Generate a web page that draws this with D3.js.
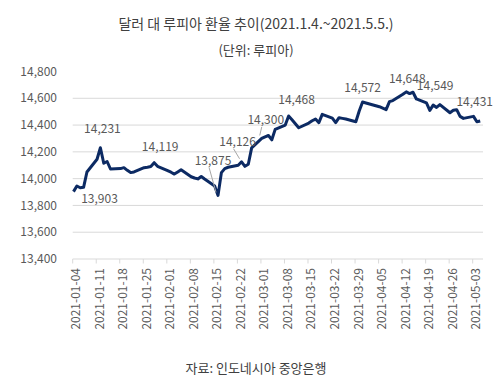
<!DOCTYPE html>
<html>
<head>
<meta charset="utf-8">
<script src="https://cdn.jsdelivr.net/npm/d3@7"></script>
<style>
  body { margin: 0; background: #fff; }
  svg text { font-family: "Noto Sans CJK KR", "Noto Sans", sans-serif; }
</style>
</head>
<body>
<script>
// IDR per USD, business days 2021-01-04 ~ 2021-05-05
const dates = [
  "2021-01-04","2021-01-05","2021-01-06","2021-01-07","2021-01-08",
  "2021-01-11","2021-01-12","2021-01-13","2021-01-14","2021-01-15",
  "2021-01-18","2021-01-19","2021-01-20","2021-01-21","2021-01-22",
  "2021-01-25","2021-01-26","2021-01-27","2021-01-28","2021-01-29",
  "2021-02-01","2021-02-02","2021-02-03","2021-02-04","2021-02-05",
  "2021-02-08","2021-02-09","2021-02-10","2021-02-11","2021-02-12",
  "2021-02-15","2021-02-16","2021-02-17","2021-02-18","2021-02-19",
  "2021-02-22","2021-02-23","2021-02-24","2021-02-25","2021-02-26",
  "2021-03-01","2021-03-02","2021-03-03","2021-03-04","2021-03-05",
  "2021-03-08","2021-03-09","2021-03-10","2021-03-12",
  "2021-03-15","2021-03-16","2021-03-17","2021-03-18","2021-03-19",
  "2021-03-22","2021-03-23","2021-03-24","2021-03-25","2021-03-26",
  "2021-03-29","2021-03-30","2021-03-31","2021-04-01",
  "2021-04-05","2021-04-06","2021-04-07","2021-04-08","2021-04-09",
  "2021-04-12","2021-04-13","2021-04-14","2021-04-15","2021-04-16",
  "2021-04-19","2021-04-20","2021-04-21","2021-04-22","2021-04-23",
  "2021-04-26","2021-04-27","2021-04-28","2021-04-29","2021-04-30",
  "2021-05-03","2021-05-04","2021-05-05"
];
const rates = [
  13903,13945,13932,13935,14050,
  14145,14231,14115,14128,14072,
  14075,14082,14062,14045,14050,
  14082,14085,14090,14119,14092,
  14060,14048,14034,14050,14066,
  14014,14005,13998,14016,13997,
  13945,13875,14045,14075,14085,
  14100,14126,14092,14108,14230,
  14300,14312,14322,14290,14368,
  14400,14468,14440,14380,
  14415,14432,14445,14418,14480,
  14452,14418,14455,14450,14445,
  14425,14505,14572,14565,
  14537,14526,14515,14575,14583,
  14630,14648,14635,14645,14595,
  14565,14510,14549,14532,14553,
  14492,14510,14515,14465,14450,
  14465,14425,14431
];
const yTicks = [13400,13600,13800,14000,14200,14400,14600,14800];
// points that carry a value label
const labelDates = ["2021-01-04","2021-01-12","2021-01-28","2021-02-16","2021-02-23",
                    "2021-03-01","2021-03-09","2021-03-31","2021-04-13","2021-04-21","2021-05-05"];

const title = "달러 대 루피아 환율 추이(2021.1.4.~2021.5.5.)";
const subtitle = "(단위: 루피아)";
const source = "자료: 인도네시아 중앙은행";

const W = 504, H = 390;
const parse = d3.timeParse("%Y-%m-%d");
const fmtTick = d3.timeFormat("%Y-%m-%d");
const fmtNum = d3.format(",");

const data = dates.map((d, i) => ({date: parse(d), value: rates[i]}));

const svg = d3.select("body").append("svg")
  .attr("width", W).attr("height", H);

const x = d3.scaleTime()
  .domain([parse("2021-01-04"), parse("2021-05-03")])
  .range([73.5, 473.5]);
const y = d3.scaleLinear()
  .domain([13400, 14800])
  .range([259, 71.5]);

const left = 72.7, right = 483;

// titles
svg.append("text").attr("x", 256).attr("y", 24).attr("dy", "0.35em")
  .attr("text-anchor", "middle").attr("font-size", 14).attr("fill", "#404040").text(title);
svg.append("text").attr("x", 256).attr("y", 50.5).attr("dy", "0.35em")
  .attr("text-anchor", "middle").attr("font-size", 13).attr("fill", "#404040").text(subtitle);
svg.append("text").attr("x", 256).attr("y", 368).attr("dy", "0.35em")
  .attr("text-anchor", "middle").attr("font-size", 13).attr("fill", "#404040").text(source);

// gridlines (none on the top tick)
svg.append("g").selectAll("line")
  .data(yTicks.slice(0, -1))
  .join("line")
  .attr("x1", left).attr("x2", right)
  .attr("y1", d => y(d)).attr("y2", d => y(d))
  .attr("stroke", "#d9d9d9").attr("stroke-width", 1);

// y labels
svg.append("g").selectAll("text")
  .data(yTicks)
  .join("text")
  .attr("x", 57).attr("y", d => y(d)).attr("dy", "0.35em")
  .attr("text-anchor", "end").attr("font-size", 12).attr("fill", "#595959")
  .text(d => fmtNum(d));

// x axis ticks + rotated labels
const weekTicks = d3.timeMonday.range(parse("2021-01-04"), parse("2021-05-04"));
const xg = svg.append("g");
xg.selectAll("line")
  .data(weekTicks)
  .join("line")
  .attr("x1", d => x(d) - 0.8).attr("x2", d => x(d) - 0.8)
  .attr("y1", 259).attr("y2", 263.5)
  .attr("stroke", "#d9d9d9");
xg.selectAll("text")
  .data(weekTicks)
  .join("text")
  .attr("transform", d => `translate(${x(d) + 2.5},268) rotate(-90)`)
  .attr("dy", "0.35em")
  .attr("text-anchor", "end").attr("font-size", 12).attr("fill", "#595959")
  .text(d => fmtTick(d));

// line
svg.append("path")
  .datum(data)
  .attr("fill", "none")
  .attr("stroke", "#0c2a63")
  .attr("stroke-width", 3)
  .attr("stroke-linejoin", "round")
  .attr("d", d3.line().x(d => x(d.date)).y(d => y(d.value)));

// value labels, offset from their point
const labelOffset = {
  "2021-01-04": [26, 7],
  "2021-01-12": [2, -18.5],
  "2021-01-28": [6, -15.5],
  "2021-02-16": [-5, -35],
  "2021-02-23": [-4, -20],
  "2021-03-01": [4, -18.5],
  "2021-03-09": [8, -16],
  "2021-03-31": [0, -14.5],
  "2021-04-13": [1, -13.5],
  "2021-04-21": [2, -19],
  "2021-05-05": [-5.5, -19]
};
const leaders = ["2021-02-16", "2021-02-23", "2021-03-01"];
const labelData = labelDates.map(d => data.find(p => fmtTick(p.date) === d));

svg.append("g").selectAll("line")
  .data(labelData.filter(p => leaders.includes(fmtTick(p.date))))
  .join("line")
  .attr("x1", p => x(p.date) + labelOffset[fmtTick(p.date)][0] - 4)
  .attr("y1", p => y(p.value) + labelOffset[fmtTick(p.date)][1] + 7)
  .attr("x2", p => x(p.date) - 2)
  .attr("y2", p => y(p.value) - 3)
  .attr("stroke", "#a6a6a6").attr("stroke-width", 1);

svg.append("g").selectAll("text")
  .data(labelData)
  .join("text")
  .attr("x", p => x(p.date) + labelOffset[fmtTick(p.date)][0])
  .attr("y", p => y(p.value) + labelOffset[fmtTick(p.date)][1])
  .attr("dy", "0.35em")
  .attr("text-anchor", "middle").attr("font-size", 12).attr("fill", "#595959")
  .text(p => fmtNum(p.value));
</script>
</body>
</html>
